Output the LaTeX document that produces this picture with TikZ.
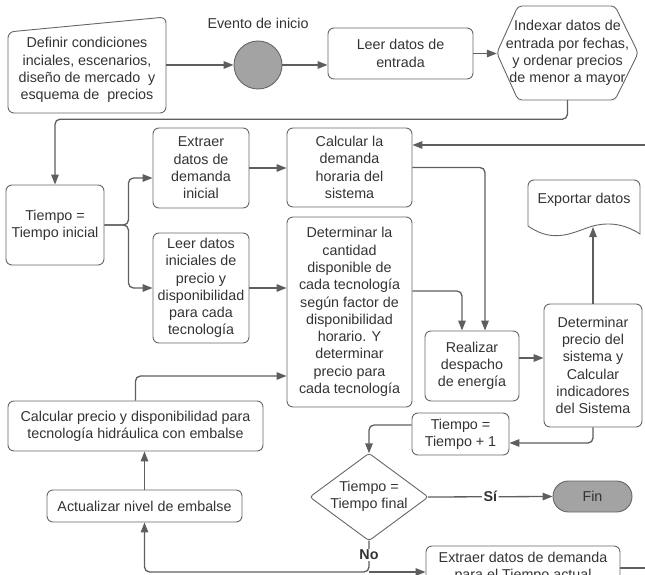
\documentclass[tikz,border=0pt]{standalone}
\usepackage{fontspec}
\setmainfont{Liberation Sans}
\usetikzlibrary{arrows.meta,shapes.geometric}
\definecolor{linec}{HTML}{5E5E5E}
\definecolor{boxc}{HTML}{666666}
\definecolor{txtc}{HTML}{333333}
\definecolor{fillg}{HTML}{A3A3A3}
\begin{document}
\begin{tikzpicture}[x=1pt,y=-1pt,
  font=\fontsize{14.3}{17.3}\selectfont, text=txtc,
  outline/.style={draw=boxc, line width=0.9pt, rounded corners=6pt},
  box/.style={draw=boxc, line width=0.9pt, rounded corners=6pt, align=center, inner sep=0pt},
  ghost/.style={inner sep=0pt, align=center},
  conn/.style={draw=linec, line width=1.3pt, rounded corners=5pt, -{Triangle[length=10pt,width=7.5pt]}},
  plain/.style={draw=linec, line width=1.3pt, rounded corners=5pt},
  lbl/.style={font=\fontsize{14.3}{17.3}\selectfont\bfseries, fill=white, inner sep=1.5pt},
]
\clip (0,0) rectangle (645,575);
\useasboundingbox (0,0) rectangle (645,575);

% Definir (manual input shape)
\node[ghost, minimum width=158pt, minimum height=96pt] (definir) at (87,65) {};
\draw[outline] (8,113) -- (8,32) -- (166,17) -- (166,113) -- cycle;
\node[ghost] (definirtxt) at (87,70) {Definir condiciones\\inciales, escenarios,\\dise\~no de mercado\ \ y\\esquema de\ \ precios};

% start event
\node[ghost] (evlabel) at (258,23) {Evento de inicio};
\node[circle, draw=boxc, line width=0.9pt, fill=fillg, minimum size=48pt, inner sep=0pt] (start) at (258,65) {};

\node[box, minimum width=145pt, minimum height=51pt] (leer) at (400.5,53.5) {Leer datos de\\entrada};

% hexagon
\node[ghost, minimum width=141pt, minimum height=94pt] (index) at (567.5,53) {};
\draw[outline, rounded corners=4pt] (index.west) -- (518,6) -- (615,6) -- (index.east) -- (615,100) -- (518,100) -- cycle;
\node[ghost] (indextxt) at (567.5,53) {Indexar datos de\\entrada por fechas,\\y ordenar precios\\de menor a mayor};

\node[box, minimum width=98pt, minimum height=80pt] (tini) at (55,225) {Tiempo =\\Tiempo inicial};
\node[box, minimum width=96pt, minimum height=80pt] (extraer) at (201,168) {Extraer\\datos de\\demanda\\inicial};
\node[box, minimum width=125pt, minimum height=79pt] (calc) at (349.5,167.5) {Calcular la\\demanda\\horaria del\\sistema};
\node[box, minimum width=96pt, minimum height=110pt] (leerini) at (201,288) {Leer datos\\iniciales de\\precio y\\disponibilidad\\para cada\\tecnolog\'ia};
\node[box, minimum width=125pt, minimum height=190pt] (determ) at (349.5,312) {Determinar la\\cantidad\\disponible de\\cada tecnolog\'ia\\seg\'un factor de\\disponibilidad\\horario. Y\\determinar\\precio para\\cada tecnolog\'ia};
\node[box, minimum width=94pt, minimum height=70pt] (realizar) at (472,366) {Realizar\\despacho\\de energ\'ia};
\node[box, minimum width=98pt, minimum height=123pt] (detprecio) at (593,365.5) {Determinar\\precio del\\sistema y\\Calcular\\indicadores\\del Sistema};

% document shape
\draw[outline] (528,226) -- (528,180) -- (640,180) [sharp corners] -- (640,234)
  .. controls (628,226) and (612,221) .. (593,226)
  .. controls (575,231) and (555,245) .. (528,226);
\node[ghost] (exportar) at (584,200) {Exportar datos};
\coordinate (expb) at (593,227);

\node[box, minimum width=97pt, minimum height=42pt] (tmas) at (460.5,434) {Tiempo =\\Tiempo + 1};

% decision
\node[ghost, minimum width=118pt, minimum height=87pt] (dec) at (369,497) {};
\draw[outline, rounded corners=3pt] (dec.north) -- (dec.east) -- (dec.south) -- (dec.west) -- cycle;
\node[ghost] (dectxt) at (369,496) {Tiempo =\\Tiempo final};

\node[draw=boxc, line width=0.9pt, fill=fillg, rounded corners=15.5pt, minimum width=79pt, minimum height=31pt, inner sep=0pt] (fin) at (592.5,496.5) {Fin};

\node[box, minimum width=194pt, minimum height=42pt] (extact) at (523,567) {Extraer datos de demanda\\para el Tiempo actual};

\node[box, minimum width=255pt, minimum height=50pt] (hidr) at (135.5,426) {Calcular precio y disponibilidad para\\tecnolog\'ia hidr\'aulica con embalse};
\node[box, minimum width=195pt, minimum height=32pt] (actual) at (144.5,506) {Actualizar nivel de embalse};

% connectors
\draw[conn] (definir.east) -- (start.west);
\draw[conn] (start.east) -- (start.east -| leer.west);
\draw[conn] (leer.east) -- (leer.east -| index.west);
\draw[conn] (index.south) -- ++(0,19) -| (tini.north);
\draw[conn] (tini.east) -- ++(24,0) |- ([yshift=-10pt]extraer.west);
\draw[conn] (tini.east) -- ++(24,0) |- (leerini.west);
\draw[conn] (extraer.east) -- (extraer.east -| calc.west);
\coordinate (rin) at (645,145);
\draw[conn] (rin) -- (rin -| calc.east);
\draw[conn] (calc.east) -| ([xshift=13pt]realizar.north);
\draw[conn] ([yshift=21pt]determ.east) -| ([xshift=-10pt]realizar.north);
\draw[conn] (leerini.east) -- (leerini.east -| determ.west);
\draw[conn] ([yshift=8pt]realizar.east) -- ([yshift=8pt]realizar.east -| detprecio.west);
\draw[conn] (detprecio.north) -- (expb);
\draw[conn] (detprecio.south) |- ([yshift=-9pt]tmas.east);
\draw[conn] ([yshift=9pt]tmas.west) -| (dec.north);
\draw[conn] (dec.east) -- node[lbl] (si) {S\'i} (fin.west);
\coordinate (nojoin) at (369,572);
\draw[conn] (dec.south) -- (nojoin) -| (actual.south);
\draw[conn] (nojoin) -- (nojoin -| extact.west);
\node[lbl] (no) at (369,555) {No};
\coordinate (rout) at (645,568);
\draw[plain] (extact.east |- rout) -- (rout);
\draw[conn] (actual.north) -- (actual.north |- hidr.south);
\draw[conn] (hidr.north) |- ([yshift=-64pt]determ.west);
\end{tikzpicture}
\end{document}
